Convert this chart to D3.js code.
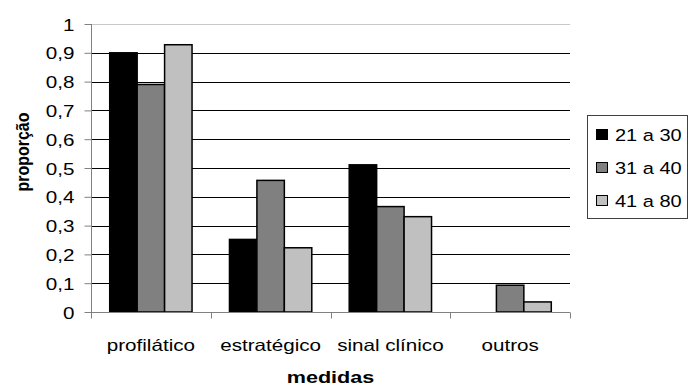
<!DOCTYPE html>
<html><head><meta charset="utf-8">
<script src="https://cdn.jsdelivr.net/npm/d3@7"></script>
<style>body{margin:0;background:#fff}svg{display:block;font-family:"Liberation Sans",Arial,sans-serif}</style>
</head><body>
<svg id="c" width="690" height="387"></svg>
<script>
const categories = ["profilático", "estratégico", "sinal clínico", "outros"];
const seriesNames = ["21 a 30", "31 a 40", "41 a 80"];
const s2130 = [0.90, 0.252, 0.511, 0];
const s3140 = [0.79, 0.457, 0.366, 0.093];
const s4180 = [0.928, 0.223, 0.331, 0.035];
const yTicks = [0, 0.1, 0.2, 0.3, 0.4, 0.5, 0.6, 0.7, 0.8, 0.9, 1];
const yTickLabels = ["0", "0,1", "0,2", "0,3", "0,4", "0,5", "0,6", "0,7", "0,8", "0,9", "1"];
const colors = ["#000000", "#808080", "#c0c0c0"];
const seriesVals = [s2130, s3140, s4180];

const K = 1.25; // horizontal stretch of the reference image text
const FS = 16.5;
const svg = d3.select("#c");
const L = 91, R = 570, T = 24, B = 312;
const x = d3.scaleBand().domain(categories).range([L, R]).paddingInner(0.3125).paddingOuter(0.15625);
const xs = d3.scaleBand().domain(seriesNames).range([0, x.bandwidth()]);
const y = d3.scaleLinear().domain([0, 1]).range([B, T]);

// gridlines
svg.append("g").selectAll("line").data(yTicks.filter(d => d > 0)).join("line")
  .attr("x1", L).attr("x2", R).attr("y1", d => Math.round(y(d)) + 0.5).attr("y2", d => Math.round(y(d)) + 0.5)
  .attr("stroke", d => d === 1 ? "#c8c8c8" : "#000").attr("stroke-width", 1);

// bars
const data = [];
categories.forEach((c, i) => seriesNames.forEach((s, j) => data.push({c, s, j, v: seriesVals[j][i]})));
svg.append("g").selectAll("rect").data(data.filter(d => d.v > 0)).join("rect")
  .attr("x", d => x(d.c) + xs(d.s))
  .attr("y", d => y(d.v))
  .attr("width", xs.bandwidth())
  .attr("height", d => B - y(d.v))
  .attr("fill", d => colors[d.j]).attr("stroke", "#000").attr("stroke-width", 1.5);

// y axis
const yAxis = d3.axisLeft(y).tickValues(yTicks).tickFormat((d, i) => yTickLabels[i]).tickSize(7).tickPadding(17);
const gy = svg.append("g").attr("transform", `translate(${L + 0.5},0)`).call(yAxis);
gy.select(".domain").attr("stroke", "#808080").attr("d", `M0,${T}V${B + 6}`);
gy.selectAll(".tick line").attr("stroke", "#808080");
gy.selectAll(".tick text").attr("font-size", FS).attr("fill", "#000")
  .attr("font-family", "Liberation Sans, Arial, sans-serif")
  .attr("x", null).attr("dy", null)
  .attr("transform", `translate(-17,6) scale(${K},1)`);

// x axis
const gx = svg.append("g").attr("transform", `translate(0,${B + 0.5})`);
const bounds = [L, ...categories.map(c => x(c) + x.bandwidth() + x.step() * x.paddingInner() / 2)];
bounds[bounds.length - 1] = R;
gx.append("line").attr("x1", L).attr("x2", R).attr("stroke", "#808080");
gx.selectAll("line.t").data(bounds).join("line").attr("class", "t")
  .attr("x1", d => Math.round(d) + 0.5).attr("x2", d => Math.round(d) + 0.5).attr("y1", 0).attr("y2", 6).attr("stroke", "#808080");
gx.selectAll("text").data(categories).join("text")
  .attr("transform", d => `translate(${x(d) + x.bandwidth() / 2},38) scale(${K},1)`)
  .attr("text-anchor", "middle").attr("font-size", FS).text(d => d);

// axis titles
svg.append("text").attr("transform", `translate(${(L + R) / 2},383) scale(1.27,1)`).attr("text-anchor", "middle")
  .attr("font-size", 17).attr("font-weight", "bold").text("medidas");
svg.append("text").attr("transform", "translate(29,152) rotate(-90) scale(1,1.2)").attr("text-anchor", "middle")
  .attr("font-size", 16).attr("font-weight", "bold").text("proporção");

// legend
const lg = svg.append("g");
lg.append("rect").attr("x", 587.5).attr("y", 115.5).attr("width", 100).attr("height", 103)
  .attr("fill", "#fff").attr("stroke", "#404040").attr("stroke-width", 1);
const li = lg.selectAll("g.i").data(seriesNames).join("g").attr("class", "i")
  .attr("transform", (d, i) => `translate(596,${135 + i * 33})`);
li.append("rect").attr("x", 0.5).attr("y", -5.5).attr("width", 11).attr("height", 10)
  .attr("fill", (d, i) => colors[i]).attr("stroke", "#000");
li.append("text").attr("transform", `translate(19,6) scale(${K * 0.97},1)`).attr("font-size", FS).text(d => d);
</script>
</body></html>
